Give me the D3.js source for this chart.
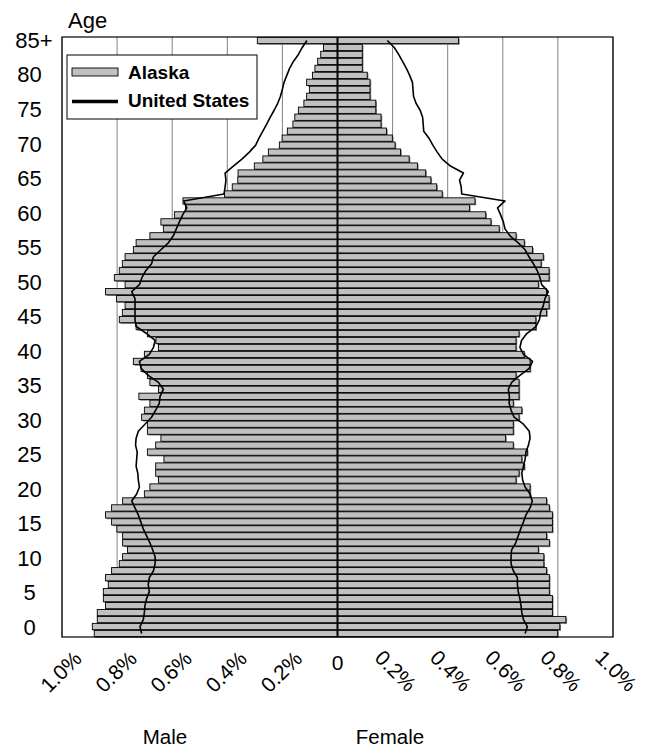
<!DOCTYPE html>
<html><head><meta charset="utf-8">
<script src="https://cdn.jsdelivr.net/npm/d3@7"></script>
<style>
body{margin:0;background:#fff;}
svg{display:block;}
text{font-family:Arial,"Liberation Sans",sans-serif;fill:#000;}
</style>
</head><body>
<svg id="chart" width="645" height="748"></svg>
<script>
// ---- data (percent of total population), index = age 0..85 (85 = "85+") ----
const ages = d3.range(0, 86);
const ageTickValues = [0,5,10,15,20,25,30,35,40,45,50,55,60,65,70,75,80,85];
const ageTickLabels = ["0","5","10","15","20","25","30","35","40","45","50","55","60","65","70","75","80","85+"];
const pctTickValues = [0.2,0.4,0.6,0.8,1.0];
const pctTickLabels = ["0.2%","0.4%","0.6%","0.8%","1.0%"];
const seriesNames = ["Alaska","United States"];
const sideNames = ["Male","Female"];

const alaskaMale = [
0.883,0.890,0.872,0.872,0.842,0.850,0.850,0.832,0.842,0.820,
0.792,0.780,0.762,0.780,0.780,0.801,0.820,0.842,0.820,0.780,
0.701,0.681,0.650,0.660,0.660,0.630,0.690,0.660,0.641,0.690,
0.690,0.711,0.701,0.681,0.721,0.650,0.681,0.690,0.713,0.741,
0.701,0.650,0.659,0.690,0.731,0.792,0.781,0.771,0.802,0.842,
0.771,0.810,0.792,0.781,0.771,0.741,0.731,0.681,0.632,0.641,
0.592,0.552,0.561,0.410,0.382,0.362,0.361,0.302,0.271,0.251,
0.211,0.201,0.182,0.162,0.155,0.142,0.122,0.112,0.102,0.112,
0.091,0.082,0.072,0.061,0.051,0.291];

const alaskaFemale = [
0.799,0.807,0.829,0.780,0.780,0.780,0.769,0.769,0.769,0.759,
0.749,0.749,0.729,0.769,0.759,0.780,0.780,0.780,0.769,0.759,
0.699,0.699,0.648,0.659,0.678,0.669,0.689,0.638,0.610,0.638,
0.638,0.659,0.669,0.638,0.659,0.659,0.659,0.648,0.699,0.699,
0.678,0.648,0.648,0.659,0.720,0.720,0.759,0.768,0.768,0.759,
0.729,0.768,0.768,0.739,0.747,0.708,0.678,0.648,0.587,0.557,
0.538,0.479,0.499,0.380,0.360,0.339,0.320,0.290,0.260,0.229,
0.209,0.199,0.178,0.158,0.158,0.139,0.139,0.118,0.118,0.118,
0.108,0.090,0.090,0.090,0.090,0.439];

const usMale = [
0.711,0.717,0.705,0.701,0.699,0.693,0.683,0.687,0.683,0.668,
0.662,0.662,0.671,0.681,0.693,0.705,0.714,0.723,0.735,0.747,
0.729,0.719,0.723,0.725,0.731,0.729,0.727,0.733,0.731,0.723,
0.699,0.675,0.660,0.647,0.644,0.632,0.650,0.687,0.713,0.719,
0.683,0.668,0.662,0.693,0.731,0.735,0.735,0.735,0.735,0.747,
0.719,0.710,0.696,0.675,0.668,0.641,0.614,0.596,0.585,0.574,
0.562,0.547,0.558,0.412,0.408,0.405,0.408,0.378,0.347,0.320,
0.297,0.285,0.271,0.257,0.244,0.230,0.217,0.207,0.200,0.194,
0.184,0.174,0.160,0.142,0.128,0.111];

const usFemale = [
0.681,0.689,0.675,0.669,0.666,0.662,0.656,0.653,0.653,0.638,
0.630,0.630,0.632,0.647,0.656,0.665,0.675,0.684,0.699,0.707,
0.699,0.681,0.672,0.669,0.675,0.681,0.684,0.693,0.699,0.696,
0.675,0.641,0.630,0.623,0.624,0.620,0.632,0.662,0.696,0.708,
0.675,0.662,0.668,0.687,0.720,0.733,0.737,0.747,0.753,0.765,
0.741,0.735,0.725,0.711,0.695,0.681,0.656,0.626,0.608,0.602,
0.592,0.581,0.608,0.451,0.449,0.443,0.457,0.410,0.380,0.362,
0.346,0.332,0.313,0.311,0.309,0.300,0.285,0.276,0.274,0.272,
0.262,0.250,0.236,0.222,0.206,0.181];

// ---- layout ----
const svg = d3.select("#chart");
const P = {left:62, right:613, top:37, bottom:637};
const cx = 337.5;
const xL = d3.scaleLinear().domain([0,1]).range([cx, P.left]);
const xR = d3.scaleLinear().domain([0,1]).range([cx, P.right]);
const y = d3.scaleBand().domain(ages.slice().reverse()).range([P.top, P.bottom]).paddingInner(0.1).paddingOuter(0.05);
const yLab = d3.scaleLinear().domain([85,0]).range([40,627]);
const BAR = "#c0c0c0", SHADOW = "#808080", GRID = "#808080";

// gridlines
const g = svg.append("g");
g.selectAll("line.gl").data(pctTickValues).join("line")
  .attr("x1", d=>xL(d)).attr("x2", d=>xL(d)).attr("y1",P.top).attr("y2",P.bottom)
  .attr("stroke",GRID).attr("stroke-width",1);
g.selectAll("line.gr").data(pctTickValues).join("line")
  .attr("x1", d=>xR(d)).attr("x2", d=>xR(d)).attr("y1",P.top).attr("y2",P.bottom)
  .attr("stroke",GRID).attr("stroke-width",1);

// bars
function drawSide(vals, scale, left){
  const gs = svg.append("g");
  const rows = ages.map(a=>({age:a, v:vals[a]}));
  gs.selectAll("rect.sh").data(rows).join("rect")
    .attr("x", d=> left ? scale(d.v)+1.2 : cx+1.2)
    .attr("y", d=> y(d.age)+1.2)
    .attr("width", d=> Math.abs(scale(d.v)-cx))
    .attr("height", y.bandwidth())
    .attr("fill", SHADOW);
  gs.selectAll("rect.b").data(rows).join("rect")
    .attr("x", d=> left ? scale(d.v) : cx)
    .attr("y", d=> y(d.age))
    .attr("width", d=> Math.abs(scale(d.v)-cx))
    .attr("height", y.bandwidth())
    .attr("fill", BAR).attr("stroke","#000").attr("stroke-width",0.9);
}
drawSide(alaskaMale, xL, true);
drawSide(alaskaFemale, xR, false);

// center line
svg.append("line").attr("x1",cx).attr("x2",cx).attr("y1",P.top).attr("y2",P.bottom)
  .attr("stroke","#000").attr("stroke-width",2);

// US lines
const lineL = d3.line().x(a=>xL(usMale[a])).y(a=>y(a)+y.bandwidth()/2);
const lineR = d3.line().x(a=>xR(usFemale[a])).y(a=>y(a)+y.bandwidth()/2);
svg.append("path").attr("d",lineL(ages)).attr("fill","none").attr("stroke","#000").attr("stroke-width",1.6).attr("stroke-linejoin","round");
svg.append("path").attr("d",lineR(ages)).attr("fill","none").attr("stroke","#000").attr("stroke-width",1.6).attr("stroke-linejoin","round");

// frame
svg.append("rect").attr("x",P.left).attr("y",P.top).attr("width",P.right-P.left).attr("height",P.bottom-P.top)
  .attr("fill","none").attr("stroke","#000").attr("stroke-width",1.2);

// y labels
svg.append("g").selectAll("text").data(ageTickValues).join("text")
  .attr("x", (d,i)=> i===ageTickValues.length-1 ? 34 : 29.5)
  .attr("y", d=>yLab(d)).attr("dy","0.36em")
  .attr("text-anchor","middle").attr("font-size",22)
  .text((d,i)=>ageTickLabels[i]);
svg.append("text").attr("x",68).attr("y",28).attr("font-size",22).text("Age");

// x labels
const xl = svg.append("g").attr("font-size",21);
xl.selectAll("text.l").data(pctTickValues).join("text")
  .attr("text-anchor","end")
  .attr("transform", d=>`translate(${xL(d)+21},660) rotate(-45)`)
  .text((d,i)=>pctTickLabels[i]);
xl.selectAll("text.r").data(pctTickValues).join("text")
  .attr("text-anchor","start")
  .attr("transform", d=>`translate(${xR(d)-19},659) rotate(45)`)
  .text((d,i)=>pctTickLabels[i]);
xl.append("text").attr("x",xL(0)).attr("y",670).attr("text-anchor","middle").text("0");

svg.append("text").attr("x",165).attr("y",744).attr("text-anchor","middle").attr("font-size",20.5).text(sideNames[0]);
svg.append("text").attr("x",390).attr("y",744).attr("text-anchor","middle").attr("font-size",20.5).text(sideNames[1]);

// legend
const lg = svg.append("g");
lg.append("rect").attr("x",67).attr("y",55).attr("width",190).attr("height",64).attr("fill","#fff").attr("stroke","#000").attr("stroke-width",1);
lg.append("rect").attr("x",72).attr("y",68).attr("width",46).attr("height",8).attr("fill",BAR).attr("stroke","#000").attr("stroke-width",0.9);
lg.append("line").attr("x1",72).attr("x2",118).attr("y1",101.5).attr("y2",101.5).attr("stroke","#000").attr("stroke-width",3.5);
lg.append("text").attr("x",128).attr("y",79).attr("font-size",19).attr("font-weight","bold").text(seriesNames[0]);
lg.append("text").attr("x",128).attr("y",107).attr("font-size",19).attr("font-weight","bold").text(seriesNames[1]);
</script>
</body></html>
